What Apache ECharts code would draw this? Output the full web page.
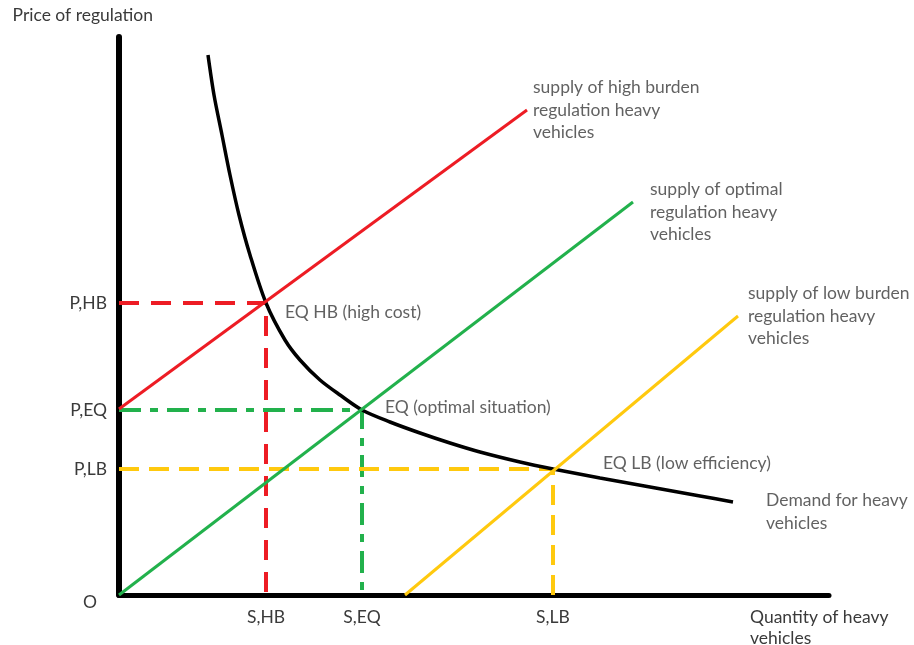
<!DOCTYPE html>
<html>
<head>
<meta charset="utf-8">
<script src="https://cdn.jsdelivr.net/npm/echarts@6/dist/echarts.min.js"></script>
<style>
html,body{margin:0;padding:0;background:#fff;}
#chart{width:914px;height:645px;}
</style>
</head>
<body>
<div id="chart"></div>
<script>
// ---- data (arbitrary units) ----
const demandCurve = [
  [89,540],[95,500],[103,460],[111,420],[120,380],[131,340],[147,292],
  [166,255],[181,235],[201,215],[221,200],[243,185],[271,173],[301,162],[331,152],
  [361,143],[401,133],[434,126],[481,117],[531,108],[581,99],[614,93]
];
const highBurdenSupply = [[0,186],[408,485]];
const optimalSupply = [[0,0],[514,393]];
const lowBurdenSupply = [[286,0],[619,279]];

const eqHighBurden = [147,292];
const eqOptimal = [243,185];
const eqLowBurden = [434,126];

const priceTicks = [0,126,185,292];
const priceTickLabels = ['O','P,LB','P,EQ','P,HB'];
const qtyTicks = [147,243,434];
const qtyTickLabels = ['S,HB','S,EQ','S,LB'];

const xMax = 710, yMax = 558;

const annHigh = 'supply of high burden\nregulation heavy\nvehicles';
const annOpt = 'supply of optimal\nregulation heavy\nvehicles';
const annLow = 'supply of low burden\nregulation heavy\nvehicles';
const annEqHB = 'EQ HB (high cost)';
const annEqOpt = 'EQ (optimal situation)';
const annEqLB = 'EQ LB (low efficiency)';
const annDemand = 'Demand for heavy\nvehicles';

// ---- colours / styles ----
const RED = '#ED1C24', GREEN = '#22B14C', YELLOW = '#FFC90E', TXT = '#3a3a3a';
const FONT = 'Lato';
const FS = 17.5;

function guide(pt){ return [[0,pt[1]],[pt[0],pt[1]],[pt[0],0]]; }
function lineSeries(data, color, width, type, z){
  return {type:'line', data:data, symbol:'none', silent:true, z:z||2,
    lineStyle:{color:color, width:width, type:type||'solid'}, animation:false};
}
function last(a){ return a[a.length-1]; }
function ann(pt, text, dx, dy){
  return {value:pt, label:{show:true, formatter:text, offset:[dx,dy]}};
}

const chart = echarts.init(document.getElementById('chart'));
chart.setOption({
  animation:false,
  backgroundColor:'#fff',
  textStyle:{fontFamily:FONT},
  grid:{left:119, right:85, top:37, bottom:50, containLabel:false, outerBoundsMode:'none'},
  xAxis:{
    type:'value', min:0, max:xMax,
    name:'Quantity of heavy\nvehicles', nameLocation:'end', nameGap:-79,
    nameTextStyle:{color:TXT, fontSize:FS, fontFamily:FONT, align:'left', verticalAlign:'top', lineHeight:21, padding:[12,0,0,0]},
    axisLine:{show:true, onZero:false, lineStyle:{color:'#000', width:5}},
    axisTick:{show:false}, splitLine:{show:false},
    axisLabel:{customValues:qtyTicks, color:TXT, fontSize:FS, fontFamily:FONT, margin:13,
      formatter:function(v){ const i = qtyTicks.indexOf(v); return i>=0 ? qtyTickLabels[i] : ''; }}
  },
  yAxis:{
    type:'value', min:0, max:yMax,
    name:'Price of regulation', nameLocation:'end', nameGap:13,
    nameTextStyle:{color:TXT, fontSize:FS, fontFamily:FONT, align:'right', padding:[0,-34,0,0]},
    axisLine:{show:true, onZero:false, lineStyle:{color:'#000', width:6}},
    axisTick:{show:false}, splitLine:{show:false},
    axisLabel:{customValues:priceTicks, color:TXT, fontSize:FS, fontFamily:FONT, margin:12,
      formatter:function(v){ const i = priceTicks.indexOf(v); if(i<0) return ''; return v===0 ? '{o|'+priceTickLabels[i]+'}' : priceTickLabels[i]; },
      rich:{o:{fontSize:FS, fontFamily:FONT, color:TXT, padding:[14,10,0,0]}}}
  },
  series:[
    lineSeries(guide(eqHighBurden), RED, 4, [20,12], 1),
    lineSeries(guide(eqOptimal), GREEN, 4, [22,9,8,9], 1),
    lineSeries(guide(eqLowBurden), YELLOW, 4, [20,10], 1),
    Object.assign(lineSeries(demandCurve, '#000', 3.5, 'solid', 3), {smooth:0.3}),
    lineSeries(highBurdenSupply, RED, 3, 'solid', 4),
    lineSeries(optimalSupply, GREEN, 3, 'solid', 4),
    lineSeries(lowBurdenSupply, YELLOW, 3, 'solid', 4),
    {
      type:'scatter', symbolSize:0, silent:true, z:5, animation:false,
      label:{show:true, position:'right', distance:0, align:'left', verticalAlign:'middle',
        color:TXT, fontSize:FS, fontFamily:FONT, lineHeight:22.5},
      data:[
        ann(last(highBurdenSupply), annHigh, 6, 0),
        ann(last(optimalSupply), annOpt, 17, 10),
        ann(last(lowBurdenSupply), annLow, 10, 0),
        ann(eqHighBurden, annEqHB, 19, 9),
        ann(eqOptimal, annEqOpt, 23, -3),
        ann(eqLowBurden, annEqLB, 50, -6),
        ann(last(demandCurve), annDemand, 33, 10)
      ]
    }
  ]
});
</script>
</body>
</html>
